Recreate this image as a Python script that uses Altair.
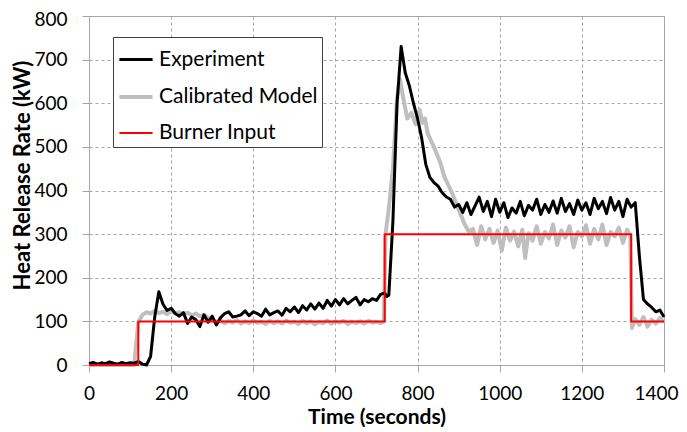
import altair as alt
import pandas as pd

# ---------------- data ----------------
exp_t = [0, 10, 20, 30, 40, 50, 60, 70, 80, 90, 100, 110, 120, 130, 140, 150, 160, 170, 180, 190,
         200, 210, 220, 230, 240, 250, 260, 270, 280, 290, 300, 310, 320, 330, 340, 350, 360, 370, 380, 390,
         400, 410, 420, 430, 440, 450, 460, 470, 480, 490, 500, 510, 520, 530, 540, 550, 560, 570, 580, 590,
         600, 610, 620, 630, 640, 650, 660, 670, 680, 690, 700, 710, 720, 725, 730, 740, 750, 760, 770, 780,
         790, 800, 810, 820, 830, 840, 850, 860, 870, 880, 890, 900, 910, 920, 930, 940, 950, 960, 970, 980,
         990, 1000, 1010, 1020, 1030, 1040, 1050, 1060, 1070, 1080, 1090, 1100, 1110, 1120, 1130, 1140, 1150,
         1160, 1170, 1180, 1190, 1200, 1210, 1220, 1230, 1240, 1250, 1260, 1270, 1280, 1290, 1300, 1310, 1320,
         1330, 1340, 1350, 1360, 1370, 1380, 1390, 1400]
exp_v = [3, 6, 2, 5, 3, 7, 4, 2, 6, 3, 5, 4, 8, 2, 0, 20, 110, 168, 140, 125,
         130, 118, 112, 120, 95, 110, 104, 88, 115, 98, 112, 92, 108, 118, 122, 110, 112, 115, 124, 113,
         122, 118, 112, 128, 115, 120, 124, 114, 130, 122, 133, 120, 136, 126, 140, 128, 142, 130, 148, 135,
         150, 138, 152, 140, 148, 155, 138, 150, 145, 152, 148, 162, 165, 157, 160, 330, 600, 730, 670, 640,
         600, 565, 520, 460, 430, 418, 410, 395, 385, 380, 362, 368, 350, 372, 345, 365, 385, 352, 375, 340,
         380, 350, 372, 338, 360, 348, 375, 342, 366, 355, 380, 345, 368, 350, 376, 348, 382,
         352, 370, 345, 378, 355, 372, 345, 382, 358, 375, 347, 384, 355, 375, 340, 380, 362,
         372, 250, 150, 140, 132, 122, 126, 110]

model_t = [0, 10, 20, 30, 40, 50, 60, 70, 80, 90, 100, 110, 120, 130, 140, 150, 160, 170, 180, 190,
           200, 210, 220, 230, 240, 250, 260, 270, 280, 290, 300, 310, 320, 330, 340, 350, 360, 370, 380, 390,
           400, 410, 420, 430, 440, 450, 460, 470, 480, 490, 500, 510, 520, 530, 540, 550, 560, 570, 580, 590,
           600, 610, 620, 630, 640, 650, 660, 670, 680, 690, 700, 710, 718, 722, 730, 740, 750, 757, 765, 775,
           785, 795, 805, 812, 818, 825, 835, 845, 855, 865, 875, 885, 895, 905, 915, 925, 935, 945, 955, 965,
           975, 985, 995, 1005, 1015, 1025, 1035, 1045, 1055, 1062, 1070, 1080, 1090, 1100, 1110, 1120, 1130,
           1140, 1150, 1160, 1170, 1180, 1190, 1200, 1210, 1220, 1230, 1240, 1250, 1260, 1270, 1280, 1290,
           1300, 1310, 1318, 1322, 1330, 1340, 1350, 1360, 1370, 1380, 1390, 1400]
model_v = [0, 0, 0, 0, 0, 0, 0, 0, 0, 0, 0, 0, 98, 115, 121, 118, 124, 119, 122, 117,
           123, 118, 121, 116, 120, 114, 118, 112, 115, 108, 104, 98, 102, 96, 101, 97, 103, 95, 100, 96,
           102, 97, 99, 94, 101, 96, 100, 95, 102, 97, 99, 94, 101, 96, 100, 93, 99, 96, 102, 95,
           100, 97, 101, 94, 99, 96, 100, 95, 101, 97, 99, 96, 100, 300, 360, 450, 610, 655, 612, 565,
           578, 552, 585, 555, 565, 530, 510, 488, 465, 432, 412, 392, 368, 345, 322, 305, 312, 275, 318, 288,
           312, 280, 308, 262, 315, 285, 306, 272, 310, 245, 302, 285, 318, 278, 305, 290, 322,
           275, 308, 292, 318, 270, 305, 295, 320, 278, 312, 288, 322, 275, 305, 295, 315,
           280, 310, 298, 85, 105, 92, 110, 88, 104, 95, 108, 98]

burner_t = [0, 120, 120, 720, 720, 1320, 1320, 1400]
burner_v = [0, 0, 100, 100, 300, 300, 100, 100]

series_names = ["Experiment", "Calibrated Model", "Burner Input"]
series_colors = ["#000000", "#bfbfbf", "#ff0000"]
series_widths = [3, 4, 2]

x_ticks = [0, 200, 400, 600, 800, 1000, 1200, 1400]
y_ticks = [0, 100, 200, 300, 400, 500, 600, 700, 800]

# ---------------- table ----------------
rows = []
for name, ts, vs in [("Experiment", exp_t, exp_v),
                     ("Calibrated Model", model_t, model_v),
                     ("Burner Input", burner_t, burner_v)]:
    for i, (t, v) in enumerate(zip(ts, vs)):
        rows.append({"series": name, "t": t, "v": v, "idx": i})
df = pd.DataFrame(rows)

legend = alt.Legend(title=None, orient="none", legendX=24, legendY=21,
                    symbolType="stroke", symbolSize=1100,
                    labelFont="Lato", labelFontSize=21, labelColor="#000000",
                    strokeColor="#404040", fillColor="white",
                    padding=4, rowPadding=8, labelOffset=4)
color = alt.Color("series:N",
                  scale=alt.Scale(domain=series_names, range=series_colors),
                  legend=legend)
width_enc = alt.StrokeWidth("series:N",
                            scale=alt.Scale(type="ordinal", domain=series_names, range=series_widths),
                            legend=legend)

x_enc = alt.X("t:Q", scale=alt.Scale(domain=[0, 1400], nice=False),
              axis=alt.Axis(values=x_ticks, format="d", labelFlush=False,
                            labelAlign={"condition": {"test": "datum.value == 1400", "value": "right"},
                                        "value": "center"},
                            labelOffset={"condition": {"test": "datum.value == 1400", "value": 14},
                                         "value": 0},
                            title="Time (seconds)", titleFontSize=21,
                            titleY=58, titleBaseline="alphabetic", labelPadding=12))
y_enc = alt.Y("v:Q", scale=alt.Scale(domain=[0, 800], nice=False),
              axis=alt.Axis(values=y_ticks,
                            labelOffset={"condition": {"test": "datum.value == 800", "value": 3},
                                         "value": 0},
                            title="Heat Release Rate (kW)", titleFontSize=22,
                            titleX=-67, titleY=159, titleBaseline="middle", labelPadding=15))

base = alt.Chart(df)


def layer(name):
    return base.transform_filter(alt.datum.series == name).mark_line(
        strokeJoin="round", strokeCap="butt", interpolate="linear"
    ).encode(x=x_enc, y=y_enc, color=color, strokeWidth=width_enc, order="idx:Q")


chart = alt.layer(
    layer("Calibrated Model"),
    layer("Experiment"),
    layer("Burner Input"),
).properties(
    width=575, height=349,
    autosize=alt.AutoSizeParams(type="none"),
    padding={"left": 81, "top": 8, "right": 15, "bottom": 62},
).configure_view(
    stroke="#a6a6a6", strokeWidth=1
).configure_axis(
    labelFont="Lato", labelFontSize=19, labelColor="#000000",
    titleFont="Lato", titleFontWeight="bold", titleColor="#000000",
    gridColor="#a6a6a6", gridDash=[3, 3], gridWidth=1,
    domainColor="#a6a6a6", tickColor="#a6a6a6", tickSize=7,
)

chart.save("out.html", embed_options={"renderer": "svg", "actions": False})
